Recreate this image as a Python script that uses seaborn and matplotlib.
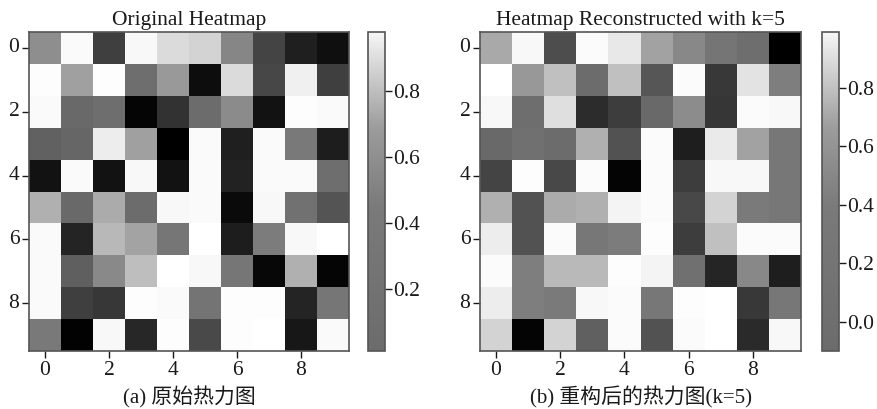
import numpy as np
import pandas as pd
import matplotlib
matplotlib.use("Agg")
import matplotlib.pyplot as plt
from matplotlib.colors import LinearSegmentedColormap
import seaborn as sns

# ---- data ----
original = [
    [0.55, 0.96, 0.25, 0.95, 0.84, 0.81, 0.52, 0.27, 0.13, 0.07],
    [0.97, 0.62, 0.97, 0.43, 0.59, 0.06, 0.84, 0.28, 0.92, 0.25],
    [0.96, 0.41, 0.43, 0.03, 0.20, 0.42, 0.54, 0.08, 0.97, 0.96],
    [0.38, 0.40, 0.91, 0.62, 0.01, 0.96, 0.13, 0.96, 0.47, 0.12],
    [0.08, 0.96, 0.08, 0.95, 0.08, 0.96, 0.14, 0.96, 0.96, 0.43],
    [0.68, 0.41, 0.66, 0.42, 0.95, 0.96, 0.05, 0.95, 0.44, 0.33],
    [0.96, 0.15, 0.71, 0.63, 0.46, 0.98, 0.12, 0.48, 0.95, 0.98],
    [0.96, 0.37, 0.53, 0.73, 0.98, 0.95, 0.46, 0.04, 0.68, 0.03],
    [0.96, 0.25, 0.22, 0.97, 0.96, 0.45, 0.97, 0.97, 0.15, 0.46],
    [0.47, 0.02, 0.95, 0.16, 0.97, 0.29, 0.97, 0.98, 0.10, 0.96],
]
reconstructed = [
    [0.62, 0.96, 0.23, 0.97, 0.89, 0.59, 0.48, 0.40, 0.37, -0.10],
    [0.99, 0.55, 0.72, 0.36, 0.72, 0.27, 0.97, 0.14, 0.87, 0.44],
    [0.96, 0.37, 0.85, 0.09, 0.16, 0.35, 0.50, 0.13, 0.97, 0.96],
    [0.35, 0.38, 0.36, 0.65, 0.25, 0.97, 0.03, 0.90, 0.59, 0.41],
    [0.19, 0.98, 0.21, 0.97, -0.08, 0.97, 0.16, 0.96, 0.96, 0.41],
    [0.65, 0.25, 0.63, 0.65, 0.94, 0.97, 0.21, 0.80, 0.42, 0.41],
    [0.91, 0.25, 0.97, 0.41, 0.43, 0.98, 0.16, 0.72, 0.97, 0.97],
    [0.97, 0.44, 0.69, 0.69, 0.98, 0.94, 0.38, 0.06, 0.48, 0.03],
    [0.91, 0.44, 0.42, 0.96, 0.97, 0.41, 0.98, 0.99, 0.14, 0.41],
    [0.80, -0.08, 0.80, 0.31, 0.97, 0.25, 0.97, 0.99, 0.08, 0.96],
]
titles = ["Original Heatmap", "Heatmap Reconstructed with k=5"]
captions = ["(a) 原始热力图", "(b) 重构后的热力图(k=5)"]

# ---- style ----
plt.rcParams["font.family"] = ["Liberation Serif", "Noto Sans CJK SC"]
plt.rcParams["axes.unicode_minus"] = False
TXT = "#1a1a1a"

W, H = 877, 409
fig = plt.figure(figsize=(W / 100, H / 100), dpi=100)

def fr(x0, y0, x1, y1):
    return [x0 / W, (H - y1) / H, (x1 - x0) / W, (y1 - y0) / H]

ax_pos = [fr(29, 32, 349, 351), fr(480, 32, 801, 351)]
cb_pos = [fr(368, 32, 385, 351), fr(822, 32, 839, 351)]

bar_cmap = LinearSegmentedColormap.from_list(
    "bar", [(0.0, "#6c6c6c"), (0.45, "#7a7a7a"), (0.7, "#9c9c9c"),
            (0.85, "#c8c8c8"), (1.0, "#f6f6f6")])

for data, title, cap, apos, cpos in zip([original, reconstructed], titles,
                                        captions, ax_pos, cb_pos):
    ax = fig.add_axes(apos)
    cax = fig.add_axes(cpos)
    df = pd.DataFrame(data)
    sns.heatmap(df, ax=ax, cbar_ax=cax, cmap="gray",
                xticklabels=2, yticklabels=2)
    for sp in ax.spines.values():
        sp.set_visible(True)
        sp.set_color("#555555")
        sp.set_linewidth(1.2)
    ax.set_title(title, fontsize=15.5, color=TXT, pad=5)
    ax.set_xlabel(cap, fontsize=15, color=TXT, labelpad=5)
    ax.tick_params(axis="both", labelsize=15.5, colors=TXT, length=5,
                   width=1, direction="out")
    ax.tick_params(axis="x", rotation=0, pad=2)
    ax.tick_params(axis="y", rotation=0, pad=2)
    cb = ax.collections[0].colorbar
    cb.solids.set_cmap(bar_cmap)
    cb.outline.set_visible(True)
    cb.outline.set_linewidth(1.2)
    cb.outline.set_edgecolor("#555555")
    cax.tick_params(labelsize=15.5, colors=TXT, length=5, width=1, pad=1)

fig.savefig("out.png", dpi=100)
